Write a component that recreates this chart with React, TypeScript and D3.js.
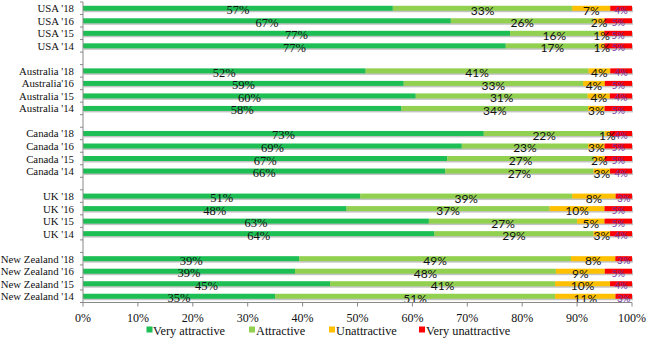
import React from "react";
import * as d3 from "d3";

const categories = [
  "USA '18", "USA '16", "USA '15", "USA '14", "",
  "Australia '18", "Australia'16", "Australia '15", "Australia '14", " ",
  "Canada '18", "Canada '16", "Canada '15", "Canada '14", "  ",
  "UK '18", "UK '16", "UK '15", "UK '14", "   ",
  "New Zealand '18", "New Zealand '16", "New Zealand '15", "New Zealand '14",
];
const veryAttractive = [57, 67, 77, 77, null, 52, 59, 60, 58, null, 73, 69, 67, 66, null, 51, 48, 63, 64, null, 39, 39, 45, 35];
const attractive = [33, 26, 16, 17, null, 41, 33, 31, 34, null, 22, 23, 27, 27, null, 39, 37, 27, 29, null, 49, 48, 41, 51];
const unattractive = [7, 2, 1, 1, null, 4, 4, 4, 3, null, 1, 3, 2, 3, null, 8, 10, 5, 3, null, 8, 9, 10, 11];
const veryUnattractive = [4, 5, 5, 5, null, 4, 5, 4, 5, null, 4, 5, 5, 4, null, 3, 5, 5, 4, null, 3, 5, 4, 3];
const seriesNames = ["Very attractive", "Attractive", "Unattractive", "Very unattractive"];
const seriesColors = ["#1dbf55", "#92d050", "#ffc000", "#ff0000"];
const xTicks = [0, 0.1, 0.2, 0.3, 0.4, 0.5, 0.6, 0.7, 0.8, 0.9, 1];

const W = 650, H = 339;
const left = 83, right = 632, top = 2, bottom = 302.5;

const serif = "Liberation Serif";
const sans = "Lato";

export default function App() {
  const x = d3.scaleLinear().domain([0, 1]).range([left, right]);
  const y = d3.scaleBand<number>().domain(d3.range(categories.length)).range([top, bottom]).paddingInner(0).paddingOuter(0);
  const slot = y.bandwidth();
  const barH = 5;
  const allSeries = [veryAttractive, attractive, unattractive, veryUnattractive];

  const rows: any[] = [];
  categories.forEach((c, i) => {
    if (veryAttractive[i] == null) return;
    const vals = allSeries.map((s) => s[i] as number);
    const total = d3.sum(vals);
    let acc = 0;
    const segs = vals.map((v, k) => {
      const x0 = acc / total;
      acc += v;
      const x1 = acc / total;
      return { k, v, x0, x1 };
    });
    rows.push({ i, c, segs });
  });

  const legendItems = [
    { sq: 146.5, tx: 153 },
    { sq: 249, tx: 256 },
    { sq: 329, tx: 336 },
    { sq: 419, tx: 426 },
  ];

  return (
    <svg width={W} height={H} style={{ position: "absolute", left: 0, top: 0, background: "#fff" }}>
      {rows.map((r) => {
        const cy = (y(r.i) as number) + slot / 2;
        return (
          <g key={r.i}>
            <rect x={x(0) + 1} y={cy - barH / 2 + 1.5} width={x(1) - x(0)} height={barH} fill="#c4c4c4" />
            {r.segs.map((s: any) => (
              <rect key={s.k} x={x(s.x0)} y={cy - barH / 2} width={x(s.x1) - x(s.x0)} height={barH} fill={seriesColors[s.k]} />
            ))}
            {r.segs.map((s: any) => {
              const cx = (x(s.x0) + x(s.x1)) / 2;
              const isSerif = s.k === 0;
              const fs = s.k === 3 ? 9.5 : isSerif ? 12.5 : 12;
              const fill = s.k === 3 ? "#702fa0" : "#111";
              return (
                <text key={"t" + s.k} x={cx} y={cy + 2} textAnchor="middle" dominantBaseline="central"
                  fontFamily={isSerif ? serif : sans} fontSize={fs} fill={fill}>
                  {s.v}%
                </text>
              );
            })}
          </g>
        );
      })}
      <line x1={left} x2={left} y1={top} y2={bottom} stroke="#888" strokeWidth={1} />
      {d3.range(categories.length + 1).map((k) => {
        const yy = top + k * slot;
        return <line key={"lt" + k} x1={left - 3} x2={left} y1={yy} y2={yy} stroke="#888" strokeWidth={1} />;
      })}
      {rows.map((r) => (
        <text key={"c" + r.i} x={74} y={(y(r.i) as number) + slot / 2} textAnchor="end" dominantBaseline="central"
          fontFamily={serif} fontSize={10.8} fill="#111">
          {r.c}
        </text>
      ))}
      <line x1={left} x2={right} y1={bottom} y2={bottom} stroke="#888" strokeWidth={1} />
      {xTicks.map((t) => (
        <g key={"xt" + t}>
          <line x1={x(t)} x2={x(t)} y1={bottom} y2={bottom + 4} stroke="#888" strokeWidth={1} />
          <text x={x(t)} y={317.5} textAnchor="middle" dominantBaseline="central" fontFamily={serif} fontSize={12} fill="#111">
            {d3.format(".0%")(t)}
          </text>
        </g>
      ))}
      {seriesNames.map((n, k) => (
        <g key={"lg" + k}>
          <rect x={legendItems[k].sq} y={326.5} width={6} height={6} fill={seriesColors[k]} />
          <text x={legendItems[k].tx} y={330.5} dominantBaseline="central" fontFamily={serif} fontSize={12.3} fill="#111">
            {n}
          </text>
        </g>
      ))}
    </svg>
  );
}
